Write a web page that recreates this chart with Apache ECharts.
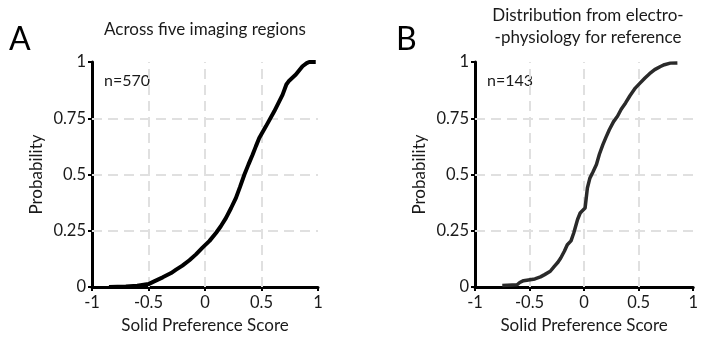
<!DOCTYPE html>
<html><head><meta charset="utf-8">
<script src="https://cdn.jsdelivr.net/npm/echarts@6/dist/echarts.min.js"></script>
<style>html,body{margin:0;padding:0;background:#fff}#c{width:701px;height:339px}</style>
</head><body><div id="c"></div>
<script>
// Panel A: imaging (n=570)
var xA = [-0.85,-0.7,-0.6,-0.5,-0.45,-0.374,-0.3,-0.256,-0.2,-0.138,-0.08,-0.02,0.04,0.097,0.14,0.186,0.23,0.274,0.31,0.348,0.385,0.421,0.45,0.48,0.539,0.613,0.687,0.72,0.745,0.804,0.863,0.9,0.922,0.98];
var yA = [0,0.002,0.006,0.013,0.025,0.043,0.062,0.077,0.095,0.119,0.145,0.176,0.205,0.24,0.27,0.307,0.35,0.396,0.445,0.499,0.545,0.588,0.625,0.662,0.714,0.781,0.855,0.9,0.917,0.944,0.981,0.995,1.0,1.0];
// Panel B: electrophysiology (n=143)
var xB = [-0.75,-0.614,-0.59,-0.555,-0.451,-0.4,-0.362,-0.31,-0.273,-0.24,-0.214,-0.18,-0.154,-0.12,-0.095,-0.06,-0.036,0.009,0.03,0.053,0.08,0.113,0.14,0.172,0.2,0.231,0.27,0.306,0.34,0.38,0.42,0.469,0.51,0.558,0.6,0.647,0.7,0.736,0.79,0.855];
var yB = [0.007,0.01,0.02,0.028,0.036,0.045,0.055,0.07,0.092,0.11,0.129,0.16,0.188,0.205,0.24,0.3,0.329,0.351,0.44,0.484,0.51,0.544,0.59,0.633,0.665,0.699,0.735,0.759,0.79,0.818,0.85,0.884,0.905,0.929,0.948,0.966,0.98,0.988,0.995,0.996];
var xTicksMin = -1, xTicksMax = 1, xStep = 0.5;
var yTicksMin = 0, yTicksMax = 1, yStep = 0.25;
var xGrid = [-0.5, 0, 0.5];
var yGrid = [0.25, 0.5, 0.75];
var titleA = 'Across five imaging regions';
var titleB = 'Distribution from electro-\n-physiology for reference';
var nA = 'n=570', nB = 'n=143';

var FONT = 'Lato';
var TXT = '#1a1a1a';
function pts(xs, ys){ return xs.map(function(x,i){return [x, ys[i]];}); }
function mkX(gi){
  return {gridIndex:gi, type:'value', min:xTicksMin, max:xTicksMax, interval:xStep,
    name:'Solid Preference Score', nameLocation:'middle', nameGap:30,
    nameTextStyle:{fontFamily:FONT,fontSize:17,color:TXT},
    axisLine:{show:true,onZero:false,lineStyle:{color:'#000',width:3}},
    axisTick:{show:true,length:4,lineStyle:{color:'#000',width:2}},
    axisLabel:{fontFamily:FONT,fontSize:16.5,color:TXT,margin:7},
    splitLine:{show:false}};
}
function mkY(gi){
  return {gridIndex:gi, type:'value', min:yTicksMin, max:yTicksMax, interval:yStep,
    name:'Probability', nameLocation:'middle', nameGap:47,
    nameTextStyle:{fontFamily:FONT,fontSize:17,color:TXT},
    axisLine:{show:true,onZero:false,lineStyle:{color:'#000',width:3}},
    axisTick:{show:true,length:4,lineStyle:{color:'#000',width:2}},
    axisLabel:{fontFamily:FONT,fontSize:16.5,color:TXT,margin:6},
    splitLine:{show:false}};
}
function gridSeries(gi){
  var d = xGrid.map(function(v){return {xAxis:v};}).concat(yGrid.map(function(v){return {yAxis:v};}));
  return {type:'line', xAxisIndex:gi, yAxisIndex:gi, data:[], z:1, silent:true,
    markLine:{silent:true, symbol:['none','none'], label:{show:false}, animation:false,
      lineStyle:{color:'#e0e0e0', width:2, type:[10,6]}, data:d}};
}
var chart = echarts.init(document.getElementById('c'), null, {renderer:'canvas'});
chart.setOption({
  animation:false,
  grid:[{left:92, top:62, width:226, height:226},{left:475, top:62, width:225, height:226}],
  xAxis:[mkX(0), mkX(1)],
  yAxis:[mkY(0), mkY(1)],
  series:[
    gridSeries(0), gridSeries(1),
    {type:'line', xAxisIndex:0, yAxisIndex:0, data:pts(xA,yA), showSymbol:false, z:5,
      lineStyle:{color:'#000', width:4}},
    {type:'line', xAxisIndex:1, yAxisIndex:1, data:pts(xB,yB), showSymbol:false, z:5,
      lineStyle:{color:'#2a2a2a', width:3.5}}
  ],
  graphic:[
    {type:'text', style:{text:titleA, x:205, y:30, textAlign:'center', textVerticalAlign:'middle', font:'17px Lato', fill:TXT}},
    {type:'text', style:{text:titleB, x:588, y:27, textAlign:'center', textVerticalAlign:'middle', font:'17px Lato', fill:TXT, lineHeight:22}},
    {type:'text', style:{text:'A', x:9, y:40, textAlign:'left', textVerticalAlign:'middle', font:'32px Lato', fill:'#000'}},
    {type:'text', style:{text:'B', x:396, y:40, textAlign:'left', textVerticalAlign:'middle', font:'32px Lato', fill:'#000'}},
    {type:'text', style:{text:nA, x:104, y:81, textAlign:'left', textVerticalAlign:'middle', font:'16px Lato', fill:TXT}},
    {type:'text', style:{text:nB, x:487, y:81, textAlign:'left', textVerticalAlign:'middle', font:'16px Lato', fill:TXT}}
  ]
});
</script></body></html>
